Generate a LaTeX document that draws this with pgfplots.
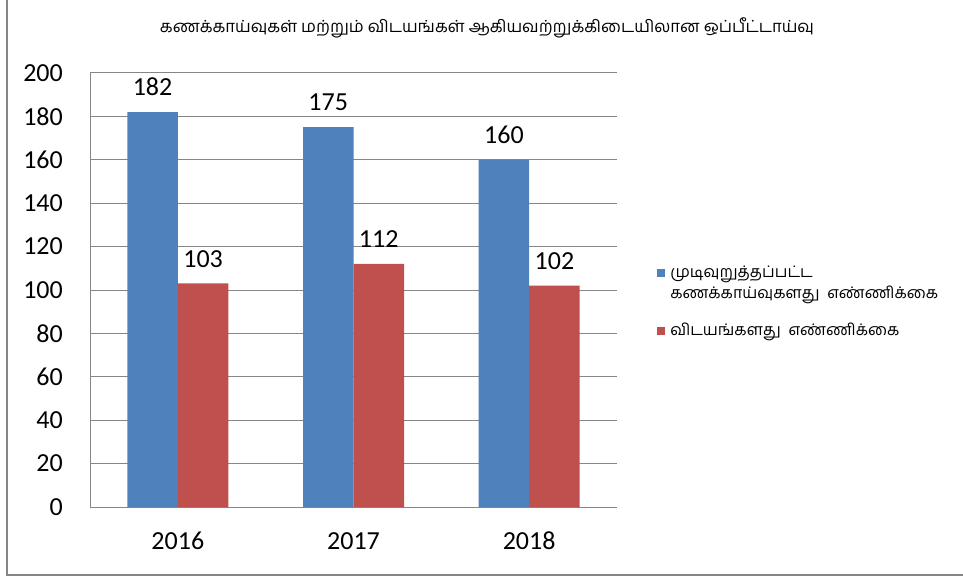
\documentclass[border=0pt]{standalone}
\usepackage{fontspec}
\setmainfont{Carlito}
\newfontfamily\tamil[Script=Tamil]{Hind Madurai}
\usepackage{pgfplots}
\pgfplotsset{compat=1.18}
\definecolor{barblue}{HTML}{4F81BD}
\definecolor{barred}{HTML}{C0504D}
\definecolor{gridgray}{HTML}{868686}
\begin{document}
\begin{tikzpicture}[x=1pt,y=1pt]
\useasboundingbox (0pt,0pt) rectangle (963pt,579pt);
\draw[gridgray, line width=1.2pt] (7pt,579pt) -- (7pt,4pt) -- (963pt,4pt);
\node[font=\tamil\fontsize{16.7}{20}\selectfont] at (487pt,551pt) {கணக்காய்வுகள் மற்றும் விடயங்கள் ஆகியவற்றுக்கிடையிலான ஒப்பீட்டாய்வு};
\begin{axis}[
  at={(90pt,72pt)}, anchor=south west,
  scale only axis, width=527pt, height=434pt,
  ybar=0pt, bar width=50.5pt,
  xmin=-0.5, xmax=2.5, ymin=0, ymax=200,
  xtick={0,1,2}, xticklabels={2016,2017,2018},
  ytick={0,20,...,200},
  axis x line*=bottom, axis y line*=left,
  axis line style={gridgray, line width=1pt, -},
  major tick length=0pt,
  ymajorgrids, grid style={gridgray, line width=1pt},
  tick label style={font=\fontsize{26}{30}\selectfont, inner sep=0pt},
  yticklabel style={xshift=-27pt},
  xticklabel style={yshift=-25pt},
  /pgf/number format/assume math mode=true,
  nodes near coords,
  every node near coord/.append style={font=\fontsize{26}{30}\selectfont, inner sep=0pt, yshift=16pt, black},
  legend style={at={(1.076,0.56)}, anchor=north west, draw=none, fill=none,
    font=\tamil\fontsize{16}{21}\selectfont, cells={anchor=base west, align=left},
    row sep=19pt, inner sep=0pt, column sep=3pt},
]
\addplot[fill=barblue, draw=none, legend image code/.code={\fill[barblue] (0pt,22pt) rectangle (8pt,30pt);}] coordinates {(0,182) (1,175) (2,160)};
\addplot[fill=barred, draw=none, legend image code/.code={\fill[barred] (0pt,1pt) rectangle (8pt,9pt);}] coordinates {(0,103) (1,112) (2,102)};
\addlegendentry{முடிவுறுத்தப்பட்ட\\கணக்காய்வுகளது\ \ எண்ணிக்கை}
\addlegendentry{விடயங்களது\ \ எண்ணிக்கை}
\end{axis}
\end{tikzpicture}
\end{document}
